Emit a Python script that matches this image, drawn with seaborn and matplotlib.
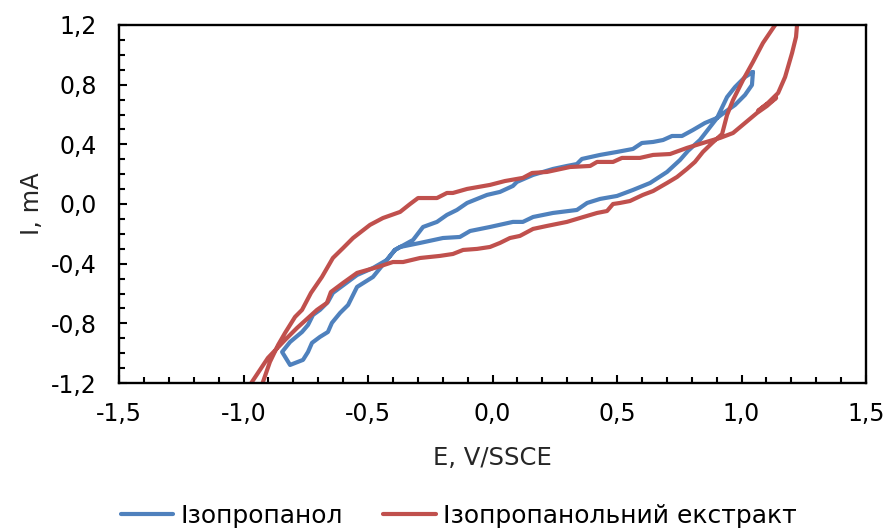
import matplotlib
matplotlib.use("Agg")
import matplotlib.pyplot as plt
import numpy as np
import pandas as pd
import seaborn as sns
from matplotlib.ticker import MultipleLocator, FuncFormatter

series_names = ["Ізопропанол", "Ізопропанольний екстракт"]

# Ізопропанол (closed loop)
e_iso = [1.046, 1.014, 0.974, 0.942, 0.902, 0.833, 0.785, 0.753, 0.701, 0.633,
         0.564, 0.500, 0.432, 0.380, 0.339, 0.243, 0.163, 0.122, 0.082, -0.010,
         -0.090, -0.131, -0.199, -0.291, -0.371, -0.392, -0.424, -0.480, -0.544, -0.641,
         -0.661, -0.693, -0.721, -0.741, -0.765, -0.813, -0.845, -0.813, -0.761, -0.741,
         -0.725, -0.693, -0.661, -0.645, -0.612, -0.580, -0.544, -0.480, -0.392, -0.319,
         -0.279, -0.223, -0.183, -0.143, -0.102, -0.022, 0.030, 0.082, 0.098, 0.163,
         0.243, 0.299, 0.339, 0.359, 0.432, 0.500, 0.564, 0.600, 0.645, 0.685,
         0.721, 0.761, 0.805, 0.853, 0.902, 0.934, 0.974, 1.014, 1.042, 1.046]
i_iso = [0.885, 0.851, 0.784, 0.717, 0.577, 0.429, 0.356, 0.295, 0.215, 0.141,
         0.094, 0.054, 0.034, 0.007, -0.040, -0.060, -0.087, -0.120, -0.120, -0.154,
         -0.181, -0.221, -0.228, -0.261, -0.288, -0.308, -0.375, -0.429, -0.476, -0.596,
         -0.657, -0.710, -0.744, -0.811, -0.858, -0.925, -0.992, -1.079, -1.045, -0.992,
         -0.931, -0.891, -0.858, -0.797, -0.730, -0.677, -0.556, -0.489, -0.308, -0.241,
         -0.154, -0.120, -0.073, -0.040, 0.007, 0.061, 0.081, 0.121, 0.148, 0.195,
         0.235, 0.255, 0.268, 0.302, 0.329, 0.349, 0.369, 0.409, 0.416, 0.429,
         0.456, 0.456, 0.496, 0.543, 0.577, 0.617, 0.664, 0.731, 0.798, 0.885]

# Ізопропанольний екстракт: cathodic sweep, then anodic sweep (both ends off-scale)
e_ext_down = [1.163, 1.135, 1.086, 1.046, 1.006, 0.966, 0.942, 0.922, 0.882, 0.845,
              0.813, 0.781, 0.741, 0.701, 0.645, 0.604, 0.552, 0.512, 0.484, 0.460,
              0.420, 0.351, 0.299, 0.219, 0.163, 0.110, 0.070, 0.030, -0.010, -0.062,
              -0.118, -0.159, -0.211, -0.291, -0.359, -0.400, -0.460, -0.544, -0.600, -0.649,
              -0.665, -0.705, -0.785, -0.833, -0.902, -0.974, -1.002]
i_ext_down = [1.267, 1.200, 1.079, 0.952, 0.831, 0.697, 0.597, 0.469, 0.409, 0.349,
              0.282, 0.235, 0.181, 0.141, 0.087, 0.061, 0.020, 0.007, 0.000, -0.047,
              -0.060, -0.094, -0.120, -0.147, -0.167, -0.214, -0.228, -0.261, -0.288, -0.301,
              -0.308, -0.335, -0.348, -0.362, -0.389, -0.389, -0.422, -0.462, -0.529, -0.590,
              -0.663, -0.710, -0.831, -0.911, -1.032, -1.213, -1.280]
e_ext_up = [-0.942, -0.926, -0.894, -0.861, -0.833, -0.793, -0.765, -0.729, -0.685, -0.641,
            -0.600, -0.560, -0.492, -0.440, -0.371, -0.331, -0.299, -0.223, -0.183, -0.159,
            -0.102, -0.010, 0.050, 0.122, 0.159, 0.219, 0.311, 0.392, 0.420, 0.484,
            0.520, 0.592, 0.645, 0.713, 0.781, 0.845, 0.914, 0.966, 1.014, 1.062,
            1.102, 1.139, 1.098, 1.066, 1.106, 1.147, 1.175, 1.203, 1.219, 1.223, 1.223]
i_ext_up = [-1.280, -1.213, -1.059, -0.945, -0.864, -0.757, -0.710, -0.596, -0.489, -0.362,
            -0.295, -0.228, -0.140, -0.094, -0.053, 0.000, 0.040, 0.040, 0.074, 0.074,
            0.101, 0.128, 0.154, 0.175, 0.208, 0.215, 0.248, 0.255, 0.282, 0.282,
            0.309, 0.309, 0.329, 0.335, 0.376, 0.409, 0.443, 0.476, 0.543, 0.610,
            0.657, 0.711, 0.664, 0.624, 0.677, 0.744, 0.851, 1.012, 1.120, 1.200, 1.267]

colors = ["#4F81BD", "#C0504D"]

e_ext = e_ext_down + e_ext_up
i_ext = i_ext_down + i_ext_up
df = pd.concat([
    pd.DataFrame({"E": e_iso, "I": i_iso, "series": series_names[0],
                  "order": np.arange(len(e_iso))}),
    pd.DataFrame({"E": e_ext, "I": i_ext, "series": series_names[1],
                  "order": np.arange(len(e_ext))}),
], ignore_index=True)

sns.set_style("white")
plt.rcParams["font.family"] = ["DejaVu Sans"]
plt.rcParams["text.color"] = "black"

fig = plt.figure(figsize=(8.88, 5.30), dpi=100)
ax = fig.add_axes([119 / 888, 1 - 383 / 530, (866 - 119) / 888, (383 - 25) / 530])

sns.lineplot(data=df, x="E", y="I", hue="series", hue_order=series_names,
             palette=colors, sort=False, estimator=None, linewidth=3.0, ax=ax)
for ln in ax.lines:
    ln.set_solid_joinstyle("round")
    ln.set_solid_capstyle("round")

ax.set_xlim(-1.5, 1.5)
ax.set_ylim(-1.2, 1.2)
ax.xaxis.set_major_locator(MultipleLocator(0.5))
ax.xaxis.set_minor_locator(MultipleLocator(0.1))
ax.yaxis.set_major_locator(MultipleLocator(0.4))
ax.yaxis.set_minor_locator(MultipleLocator(0.1))


def comma_fmt(v, pos):
    if abs(v) < 1e-9:
        v = 0.0
    return f"{v:.1f}".replace(".", ",")


ax.xaxis.set_major_formatter(FuncFormatter(comma_fmt))
ax.yaxis.set_major_formatter(FuncFormatter(comma_fmt))

ax.tick_params(axis="both", which="both", direction="in", color="black",
               width=1.5, bottom=True, left=True, top=False, right=False)
ax.tick_params(axis="both", which="major", length=6, labelsize=17, labelcolor="black")
ax.tick_params(axis="both", which="minor", length=4)
ax.tick_params(axis="y", which="major", pad=16)
ax.tick_params(axis="x", which="major", pad=14)

for side in ["left", "bottom", "top", "right"]:
    ax.spines[side].set_visible(True)
    ax.spines[side].set_color("black")
    ax.spines[side].set_linewidth(1.7)

ax.set_xlabel("E, V/SSCE", fontsize=17.5, labelpad=14)
ax.set_ylabel("I, mA", fontsize=17.5, labelpad=5)

handles, labels = ax.get_legend_handles_labels()
ax.get_legend().remove()
leg = fig.legend(handles, labels, loc="center", bbox_to_anchor=(0.517, 0.026),
                 ncol=2, frameon=False, fontsize=18, handlelength=2.1,
                 handletextpad=0.3, columnspacing=1.6, borderaxespad=0)
for h in leg.get_lines():
    h.set_linewidth(3.0)

fig.savefig("out.png", dpi=100)
